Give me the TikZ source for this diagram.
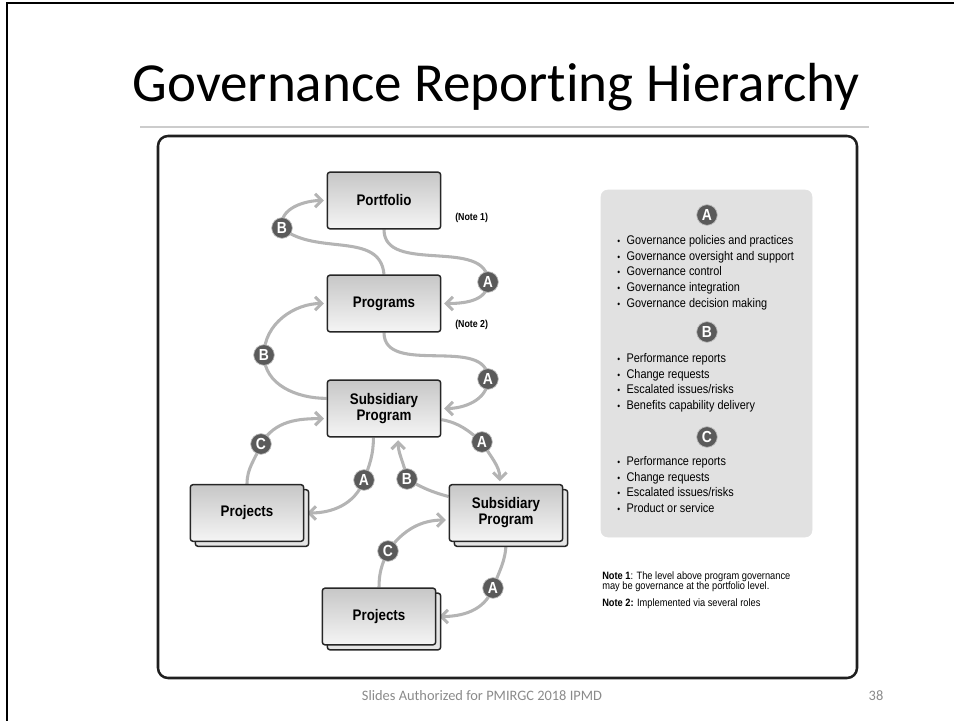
\documentclass[tikz,border=0pt]{standalone}
\usepackage{fontspec}
\setmainfont{Carlito}[Ligatures=NoCommon]
\newfontfamily\figfont[FakeStretch=0.87]{Liberation Sans}
\usepackage{tikz}
\usetikzlibrary{arrows.meta}
\usetikzlibrary{shadows}
\usetikzlibrary{backgrounds}
\definecolor{linecolor}{HTML}{B4B4B4}
\definecolor{badgecolor}{HTML}{5A5A5A}
\definecolor{panelcolor}{HTML}{E1E1E1}
\definecolor{footcolor}{HTML}{8A8A8A}
\newcommand{\bul}{\makebox[7pt][l]{\scriptsize\textbullet}}

\begin{document}
\begin{tikzpicture}[x=0.75pt,y=-0.75pt,
   level/.style={draw=black!85, line width=1.1pt, rounded corners=2pt, top color=black!22, bottom color=black!4,
      minimum width=85pt, minimum height=42.5pt, inner sep=0pt, align=center,
      font=\figfont\bfseries\fontsize{11.5}{12}\selectfont},
   stack/.style={level, copy shadow={shadow xshift=3.75pt, shadow yshift=-3.75pt, draw=black!85, line width=1.1pt, fill=black!10}},
   badge/.style={circle, fill=badgecolor, draw=black!25, line width=0.5pt, text=white, minimum size=15.5pt, inner sep=0pt,
      font=\figfont\bfseries\fontsize{12}{12}\selectfont},
   link/.style={linecolor, line width=2.3pt, -{Straight Barb[length=5pt,width=10pt]}, shorten >=2pt},
   item/.style={anchor=base west, inner sep=0pt, font=\figfont\fontsize{9.4}{11}\selectfont},
   note/.style={anchor=base west, inner sep=0pt, font=\figfont\fontsize{8}{10}\selectfont}]
   \useasboundingbox (0,0) rectangle (954,721);
   %% slide
   \draw [black, line width=2.2pt] (7,721) -- (7,3) -- (954,3);
   \node [font=\fontsize{41.3}{48}\selectfont, anchor=base] (title) at (496,101) {Governance Reporting Hierarchy};
   \draw [black!20, line width=0.8pt] (140,127) -- (869,127);
   \node [font=\fontsize{10.8}{12}\selectfont, text=footcolor, anchor=base] (foot) at (482,700) {Slides Authorized for PMIRGC 2018 IPMD};
   \node [font=\fontsize{10.8}{12}\selectfont, text=footcolor, anchor=base] (page) at (876,700) {38};
   \draw [black!88, line width=1.9pt, rounded corners=7.5pt] (158,136) rectangle (857,678);

   %% levels
   \node [level] (port) at (384,200.5) {Portfolio};
   \node [level] (prog) at (384,303.5) {Programs};
   \node [level] (subA) at (384,408.5) {Subsidiary\\Program};
   \node [stack] (projL) at (247,513) {Projects};
   \node [stack] (subB) at (506,513) {Subsidiary\\Program};
   \node [stack] (projB) at (379,616.5) {Projects};
   \node [note, font=\figfont\bfseries\fontsize{7.6}{9}\selectfont] (note1tag) at (455,220.5) {(Note 1)};
   \node [note, font=\figfont\bfseries\fontsize{7.6}{9}\selectfont] (note2tag) at (455,327.5) {(Note 2)};

   %% badge positions
   \coordinate (cB1) at (282,228);
   \coordinate (cA1) at (488,282);
   \coordinate (cB2) at (264,355);
   \coordinate (cA2) at (488,379);
   \coordinate (cC1) at (261,444);
   \coordinate (cA3) at (364,480);
   \coordinate (cB3) at (407,479);
   \coordinate (cA4) at (482,442);
   \coordinate (cC2) at (388,551);
   \coordinate (cA5) at (493,588);

   \begin{scope}[on background layer]
   \draw [link] (prog.north) to[out=95,in=-40] (cB1) to[out=100,in=180] (port.west);
   \draw [link] (port.south) to[out=-90,in=90] (cA1) to[out=-90,in=0] (prog.east);
   \draw [link] (subA.170) to[out=180,in=-90] (cB2) to[out=90,in=180] (prog.west);
   \draw [link] (prog.south) to[out=-90,in=90] (cA2) to[out=-90,in=0] (subA.east);
   \draw [link] (projL.north) to[out=90,in=-110] (cC1) to[out=60,in=180] (subA.190);
   \draw [link] (subA.250) to[out=-90,in=70] (cA3) to[out=-110,in=0] (projL.east);
   \draw [link] (subB.164) to[out=165,in=-30] (cB3) to[out=100,in=-90] (subA.296);
   \draw [link] (subA.349) to[out=-10,in=140] (cA4) to[out=-60,in=90] (subB.102);
   \draw [link] (projB.north) to[out=90,in=-115] (cC2) to[out=55,in=180] (subB.187);
   \draw [link] (subB.south) to[out=-90,in=70] (cA5) to[out=-110,in=0] (projB.east);
   \end{scope}

   \node [badge] (bB1) at (cB1) {B};
   \node [badge] (bA1) at (cA1) {A};
   \node [badge] (bB2) at (cB2) {B};
   \node [badge] (bA2) at (cA2) {A};
   \node [badge] (bC1) at (cC1) {C};
   \node [badge] (bA3) at (cA3) {A};
   \node [badge] (bB3) at (cB3) {B};
   \node [badge] (bA4) at (cA4) {A};
   \node [badge] (bC2) at (cC2) {C};
   \node [badge] (bA5) at (cA5) {A};

   %% key panel
   \draw [panelcolor, fill=panelcolor, rounded corners=5pt] (601,190) rectangle (812,537);
   \node [badge] (keyA) at (707,215) {A};
   \node [badge] (keyB) at (707,332) {B};
   \node [badge] (keyC) at (707,437) {C};
   \foreach \txt [count=\i] in {Governance policies and practices, Governance oversight and support,
      Governance control, Governance integration, Governance decision making}
      \node [item] (listA-\i) at (617,{228.8+15.7*\i}) {\bul\txt};
   \foreach \txt [count=\i] in {Performance reports, Change requests, Escalated issues/risks, Benefits capability delivery}
      \node [item] (listB-\i) at (617,{346.8+15.7*\i}) {\bul\txt};
   \foreach \txt [count=\i] in {Performance reports, Change requests, Escalated issues/risks, Product or service}
      \node [item] (listC-\i) at (617,{449.8+15.7*\i}) {\bul\txt};

   %% notes
   \node [note] (note1) at (602,579) {\textbf{Note 1}: The level above program governance};
   \node [note] (note1b) at (602,589.5) {may be governance at the portfolio level.};
   \node [note] (note2) at (602,606) {\textbf{Note 2:} Implemented via several roles};
\end{tikzpicture}
\end{document}
